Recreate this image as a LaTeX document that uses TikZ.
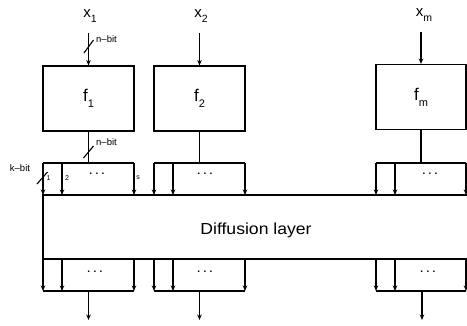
\documentclass[tikz,border=0pt]{standalone}
\usepackage{fontspec}
\setmainfont{Liberation Sans}
\usetikzlibrary{arrows.meta}
\begin{document}
\begin{tikzpicture}[x=1pt,y=-1pt,
  wire/.style={line width=1.1pt},
  arr/.style={wire,-{Stealth[length=5.5pt,width=4.5pt]}},
  fbox/.style={draw,line width=1.1pt,minimum width=91pt,minimum height=65pt,inner sep=0pt},
  xlab/.style={font=\fontsize{15}{15}\selectfont,inner sep=0pt},
  flab/.style={font=\fontsize{17}{17}\selectfont},
  bitlab/.style={font=\fontsize{9.5}{9.5}\selectfont,inner sep=0pt,anchor=west},
  idx/.style={font=\fontsize{7}{7}\selectfont,inner sep=0pt},
  dots/.style={font=\fontsize{10}{10}\selectfont\bfseries,inner sep=0pt},
  big/.style={font=\fontsize{16}{16}\selectfont,inner sep=0pt,xscale=1.1}]
\useasboundingbox (0,0) rectangle (467,325);
% function boxes
\node[fbox,flab] (f1) at (88.5,98.5) {f\raisebox{-0.35em}{\fontsize{11}{11}\selectfont 1}};
\node[fbox,flab] (f2) at (199.5,98.5) {f\raisebox{-0.35em}{\fontsize{11}{11}\selectfont 2}};
\node[fbox,flab,minimum width=90pt] (fm) at (421,97) {f\raisebox{-0.35em}{\fontsize{11}{11}\selectfont m}};
% inputs
\node[xlab] (x1) at (90,16) {x\raisebox{-0.35em}{\fontsize{10.5}{10.5}\selectfont 1}};
\node[xlab] (x2) at (201,16) {x\raisebox{-0.35em}{\fontsize{10.5}{10.5}\selectfont 2}};
\node[xlab] (xm) at (424,15) {x\raisebox{-0.35em}{\fontsize{10.5}{10.5}\selectfont m}};
\coordinate (i1) at (88.5,33);
\coordinate (i2) at (199.5,33);
\coordinate (im) at (421,32);
\draw[arr] (i1) -- (f1.north);
\draw[arr] (i2) -- (f2.north);
\draw[arr] (im) -- (fm.north);
\draw[wire] (84,53) -- (93.5,40);
\node[bitlab] (nb1) at (96,39) {n–bit};
% outputs of f to splitters
\coordinate (t1) at (88.5,163);
\coordinate (t2) at (199.5,163);
\coordinate (tm) at (421,163);
\draw[wire] (f1.south) -- (t1);
\draw[wire] (f2.south) -- (t2);
\draw[wire] (fm.south) -- (tm);
\draw[wire] (83.5,158) -- (93.5,146);
\node[bitlab] (nb2) at (96,142) {n–bit};
% top splitters
\foreach \L/\R/\d in {43/134/54, 154/245/51, 376/466/54}{
  \draw[wire] (\L,163) -- (\R,163);
  \draw[arr] (\L,163) -- (\L,195);
  \draw[arr] (\L+19,163) -- (\L+19,195);
  \draw[arr] (\R,163) -- (\R,195);
  \node[dots] at (\L+\d,174) {.\,\,.\,\,.};
}
\draw[wire] (37,184) -- (47.5,172);
\node[font=\fontsize{9.5}{9.5}\selectfont,inner sep=0pt] (kb) at (20,168) {k–bit};
\node[idx] (n1) at (48.5,178) {1};
\node[idx] (n2) at (67,178) {2};
\node[idx] (ns) at (138,178) {s};
% diffusion layer
\draw[wire] (467,195) -- (43,195) -- (43,259) -- (467,259);
\node[big] (dl) at (256,230) {Diffusion layer};
% bottom splitters
\foreach \L/\R/\d/\c in {43/134/52/88.5, 154/245/51/199.5, 376/466/52/422}{
  \draw[arr] (\L,259) -- (\L,291);
  \draw[arr] (\L+19,259) -- (\L+19,291);
  \draw[arr] (\R,259) -- (\R,291);
  \draw[wire] (\L,291) -- (\R,291);
  \node[dots] at (\L+\d,272) {.\,\,.\,\,.};
  \draw[arr] (\c,291) -- (\c,320);
}
\end{tikzpicture}
\end{document}
